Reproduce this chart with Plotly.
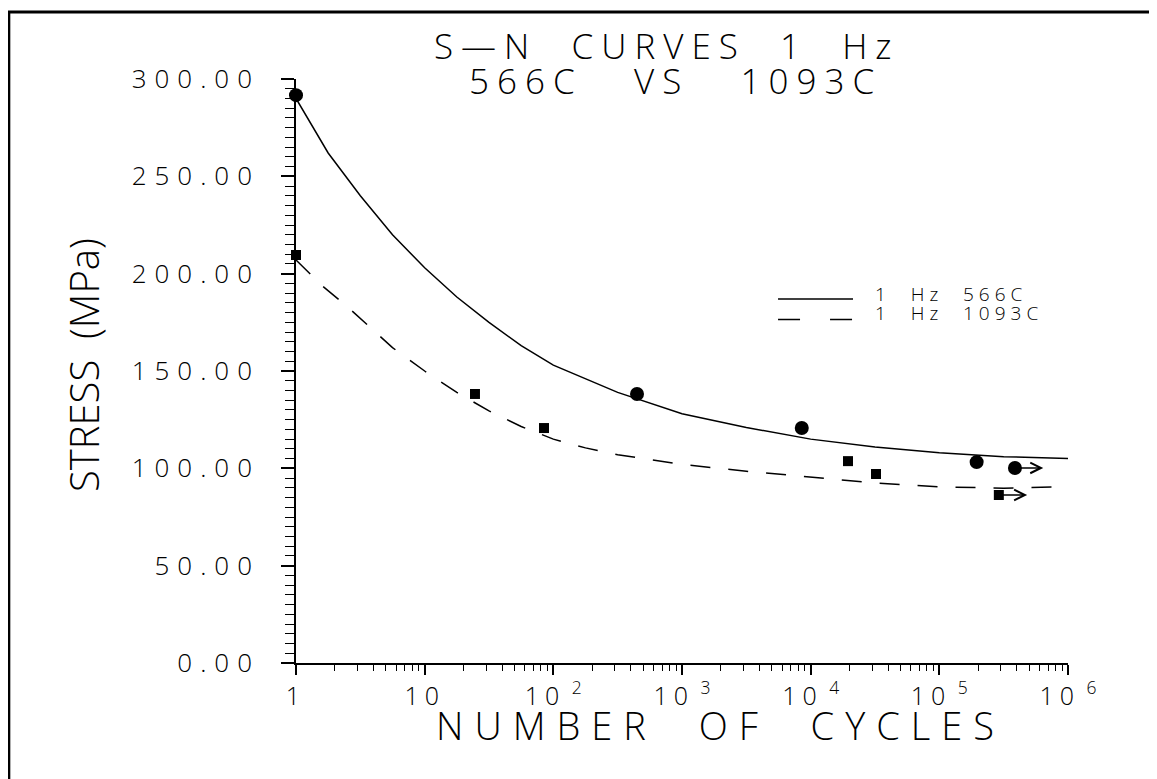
#S-N curves, 566C vs 1093C at 1 Hz
import math
import plotly.graph_objects as go

# Test points (cycles, stress MPa)
n_566 = [1, 447, 8530, 195000]
s_566 = [291.7, 138.2, 120.7, 103.2]
n_566_runout = [387000]
s_566_runout = [100.2]

n_1093 = [1, 24.6, 84.6, 19500, 32200]
s_1093 = [209.6, 138.2, 120.7, 103.7, 97.1]
n_1093_runout = [290000]
s_1093_runout = [86.3]

fit_566_logn = [0, 0.25, 0.5, 0.75, 1.0, 1.25, 1.5, 1.75, 2.0, 2.5, 3.0, 3.5, 4.0, 4.5, 5.0, 5.5, 6.0]
fit_566_s = [290, 262, 240, 220, 203, 188, 175, 163, 153, 139, 128, 121, 115, 111, 108, 106, 105]

fit_1093_logn = [0, 0.2, 0.4, 0.6, 0.75, 1.0, 1.25, 1.5, 1.75, 2.0, 2.25, 2.5, 2.75, 3.0, 3.5, 4.0, 4.5, 5.0, 5.5, 5.9]
fit_1093_s = [207, 194, 183, 171, 162, 150, 139, 129.5, 121.5, 115, 110.5, 107, 104.5, 102, 98.5, 95.5, 92.5, 90.5, 89.8, 90.5]

x_ticks = [1, 10, 100, 1000, 10000, 100000, 1000000]
x_tick_base = ["1", "10", "10", "10", "10", "10", "10"]
x_tick_exp = ["", "", "2", "3", "4", "5", "6"]
y_ticks = [0, 50, 100, 150, 200, 250, 300]

legend_names = ["1  Hz  566C", "1  Hz  1093C"]
title_lines = ["S—N  CURVES  1  Hz", "566C   VS   1093C"]

FONT = "Open Sans, DejaVu Sans"
W = 300
INK = "black"


def spaced(txt, px):
    # stretch text like the plotter's stroke font
    return '<span style="letter-spacing:%dpx">%s</span>' % (px, txt)


x_ticktext = []
for b, e in zip(x_tick_base, x_tick_exp):
    t = spaced(b, 6)
    if e:
        t += " <sup>" + e + "</sup>"
    x_ticktext.append(t)
y_ticktext = [spaced("%.2f" % v, 8) for v in y_ticks]

fig = go.Figure()

fig.add_trace(go.Scatter(
    x=[10**v for v in fit_566_logn], y=fit_566_s,
    mode="lines", line=dict(color=INK, width=1.5),
    name=legend_names[0], showlegend=False))
fig.add_trace(go.Scatter(
    x=[10**v for v in fit_1093_logn], y=fit_1093_s,
    mode="lines", line=dict(color=INK, width=1.5, dash="20px,18px"),
    name=legend_names[1], showlegend=False))

fig.add_trace(go.Scatter(
    x=n_566 + n_566_runout, y=s_566 + s_566_runout,
    mode="markers", marker=dict(symbol="circle", size=14, color=INK),
    cliponaxis=False, showlegend=False))
fig.add_trace(go.Scatter(
    x=n_1093 + n_1093_runout, y=s_1093 + s_1093_runout,
    mode="markers", marker=dict(symbol="square", size=10, color=INK),
    cliponaxis=False, showlegend=False))

# run-out arrows
for n, s in zip(n_566_runout + n_1093_runout, s_566_runout + s_1093_runout):
    fig.add_annotation(
        x=math.log10(n) + 0.22, y=s, ax=math.log10(n), ay=s,
        xref="x", yref="y", axref="x", ayref="y",
        showarrow=True, arrowhead=5, arrowsize=1.4, arrowwidth=1.5,
        arrowcolor=INK, text="")

# title (two lines)
for txt, xx, yy in zip(title_lines, [0.4806, 0.491], [1.058, 0.998]):
    fig.add_annotation(
        x=xx, y=yy, xref="paper", yref="paper",
        text=spaced(txt, 8), showarrow=False,
        font=dict(family=FONT, size=35, color=INK, weight=W),
        xanchor="center", yanchor="middle")

# axis titles
fig.add_annotation(
    x=0.5505, y=-0.106, xref="paper", yref="paper",
    text=spaced("NUMBER  OF  CYCLES", 11), showarrow=False,
    font=dict(family=FONT, size=38, color=INK, weight=W),
    xanchor="center", yanchor="middle")
fig.add_annotation(
    x=-0.276, y=0.51, xref="paper", yref="paper",
    text=spaced("STRESS  (MPa)", 0), showarrow=False, textangle=-90,
    font=dict(family=FONT, size=40, color=INK, weight=W),
    xanchor="center", yanchor="middle")

# hand drawn legend
fig.add_shape(type="line", xref="paper", yref="paper",
              x0=0.6244, x1=0.7215, y0=0.6233, y1=0.6233,
              line=dict(color=INK, width=1.5))
fig.add_shape(type="line", xref="paper", yref="paper",
              x0=0.6244, x1=0.7215, y0=0.588, y1=0.588,
              line=dict(color=INK, width=1.5, dash="22px,30px"))
for i, yy in enumerate([0.632, 0.599]):
    fig.add_annotation(
        x=0.7475, y=yy, xref="paper", yref="paper",
        text=spaced(legend_names[i], 5), showarrow=False,
        font=dict(family=FONT, size=19, color=INK, weight=W),
        xanchor="left", yanchor="middle")

# page frame
fig.add_shape(type="rect", xref="paper", yref="paper",
              x0=-0.372, x1=1.2, y0=-0.25, y1=1.1147,
              line=dict(color=INK, width=3))

# page body adds an 8px offset, so the figure is 8px smaller
fig.update_layout(
    width=1149, height=771,
    margin=dict(l=288, r=89, t=71, b=116),
    paper_bgcolor="white", plot_bgcolor="white",
    font=dict(family=FONT, color=INK),
    showlegend=False)

fig.update_xaxes(
    type="log", range=[0, 6],
    tickvals=x_ticks, ticktext=x_ticktext,
    ticks="outside", ticklen=10, tickwidth=1.5, tickcolor=INK,
    minor=dict(ticks="outside", ticklen=6, tickwidth=1.2, tickcolor=INK, dtick="D1"),
    showline=True, linecolor=INK, linewidth=1.5, mirror=False,
    showgrid=False, zeroline=False,
    tickfont=dict(family=FONT, size=25, color=INK, weight=W))

fig.update_yaxes(
    range=[0, 300], tickvals=y_ticks, ticktext=y_ticktext,
    ticks="outside", ticklen=13, tickwidth=1.5, tickcolor=INK,
    minor=dict(ticks="outside", ticklen=9, tickwidth=1.2, tickcolor=INK, dtick=5),
    showline=True, linecolor=INK, linewidth=1.5, mirror=False,
    showgrid=False, zeroline=False, ticklabelstandoff=16,
    tickfont=dict(family=FONT, size=26, color=INK, weight=W))

fig.write_html("out.html")
